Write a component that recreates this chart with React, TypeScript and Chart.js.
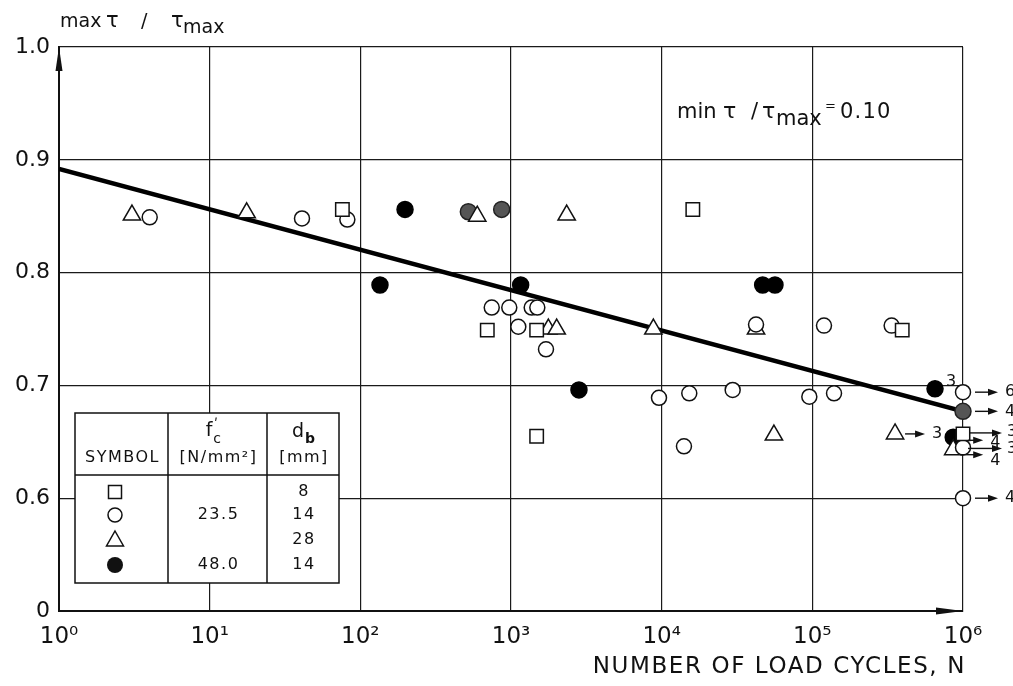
import React, { useEffect, useRef } from 'react';
import { Chart, registerables } from 'chart.js';

Chart.register(...registerables);

const FONT = 'DejaVu Sans';
const INK = '#111';

// ---- data ----
const xTickExponents = [0, 1, 2, 3, 4, 5, 6];
const xTickLabels = ['10⁰', '10¹', '10²', '10³', '10⁴', '10⁵', '10⁶'];
const yTickValues = [0.5, 0.6, 0.7, 0.8, 0.9, 1.0];
const yTickLabels = ['0', '0.6', '0.7', '0.8', '0.9', '1.0'];
const xTitle = 'NUMBER OF LOAD CYCLES, N';

const squareN = [76, 696, 1480, 1480, 16100, 395000, 1000000];
const squareY = [0.856, 0.749, 0.749, 0.655, 0.856, 0.749, 0.657];

const circleN = [4.0, 41, 82, 745, 974, 1372, 1495, 1118, 1707, 9600, 15250, 29600, 95500, 139300, 14060, 42300, 119500, 336000, 1000000, 1000000, 1000000];
const circleY = [0.849, 0.848, 0.847, 0.769, 0.769, 0.769, 0.769, 0.752, 0.732, 0.689, 0.693, 0.696, 0.690, 0.693, 0.646, 0.754, 0.753, 0.753, 0.694, 0.645, 0.600];

const triangleN = [3.05, 17.6, 597, 2342, 1770, 2010, 8810, 42300, 55600, 354000, 861000];
const triangleY = [0.851, 0.853, 0.850, 0.851, 0.750, 0.750, 0.750, 0.750, 0.656, 0.657, 0.643];

const filledN = [198, 135, 1159, 2825, 46800, 56500, 652000, 861000];
const filledY = [0.856, 0.789, 0.789, 0.696, 0.789, 0.789, 0.697, 0.654];

const stippledN = [521, 867, 1000000];
const stippledY = [0.854, 0.856, 0.677];

const fitN = [1, 1000000];
const fitY = [0.892, 0.677];

// run-outs (specimens that did not fail) and their counts
const runoutN = [1000000, 1000000, 1000000, 861000, 1000000, 861000, 1000000, 354000];
const runoutY = [0.694, 0.677, 0.657, 0.654, 0.645, 0.643, 0.600, 0.657];
const runoutCount = ['6', '4', '3', '4', '3', '4', '4', '3'];
const countOnlyN = [652000];
const countOnlyY = [0.697];
const countOnlyLabel = ['3'];

// legend table
const legendSymbols = ['rect', 'circle', 'triangle', 'filled'];
const legendFc = ['', '23.5', '', '48.0'];
const legendDb = ['8', '14', '28', '14'];

// arrow styling (start offset, end offset, label offset, vertical shift, label shift)
const runoutStyle = [
  [12, 35, 42, 0, 0],
  [12, 35, 42, 0, 0],
  [7, 39, 44, -1, -1],
  [15, 30, 37, 3, 3],
  [5, 39, 44, 1, 0],
  [7, 30, 37, 5, 6],
  [12, 35, 42, 0, 0],
  [10, 30, 37, 0, 0],
];

const pts = (xs: number[], ys: number[]) => xs.map((x, i) => ({ x, y: ys[i] }));

function drawArrow(ctx: CanvasRenderingContext2D, x0: number, x1: number, y: number) {
  ctx.beginPath();
  ctx.moveTo(x0, y);
  ctx.lineTo(x1 - 6, y);
  ctx.stroke();
  ctx.beginPath();
  ctx.moveTo(x1, y);
  ctx.lineTo(x1 - 10, y - 3.5);
  ctx.lineTo(x1 - 10, y + 3.5);
  ctx.closePath();
  ctx.fill();
}

const decorPlugin = {
  id: 'decor',
  beforeDatasetsDraw(chart: any) {
    const ctx: any = chart.ctx;
    // legend table
    const L = 75, R = 339, T = 413, B = 583, H = 475, C1 = 168, C2 = 267;
    ctx.save();
    ctx.fillStyle = '#fff';
    ctx.fillRect(L, T, R - L, B - T);
    ctx.strokeStyle = INK;
    ctx.lineWidth = 1.5;
    ctx.strokeRect(L, T, R - L, B - T);
    ctx.beginPath();
    ctx.moveTo(L, H); ctx.lineTo(R, H);
    ctx.moveTo(C1, T); ctx.lineTo(C1, B);
    ctx.moveTo(C2, T); ctx.lineTo(C2, B);
    ctx.stroke();
    ctx.fillStyle = INK;
    ctx.textAlign = 'center';
    ctx.textBaseline = 'middle';
    ctx.letterSpacing = '1.5px';
    ctx.font = `16px ${FONT}`;
    ctx.fillText('SYMBOL', (L + C1) / 2 + 1, 458);
    ctx.fillText('[N/mm²]', (C1 + C2) / 2 + 1, 458);
    ctx.fillText('[mm]', (C2 + R) / 2 + 1, 458);
    ctx.letterSpacing = '0px';
    // f'c
    ctx.font = `19px ${FONT}`;
    ctx.fillText('f', 209, 431);
    ctx.font = `14px ${FONT}`;
    ctx.fillText('ʹ', 216, 425);
    ctx.fillText('c', 217, 439);
    // d_b
    ctx.font = `19px ${FONT}`;
    ctx.fillText('d', 298, 432);
    ctx.font = `bold 14px ${FONT}`;
    ctx.fillText('b', 310, 439);
    const rowsY = [492, 515, 540, 565];
    ctx.font = `16px ${FONT}`;
    ctx.letterSpacing = '1.5px';
    legendSymbols.forEach((s, i) => {
      const y = rowsY[i];
      const x = 115;
      ctx.lineWidth = 1.5;
      ctx.strokeStyle = INK;
      ctx.beginPath();
      if (s === 'rect') {
        ctx.rect(x - 6.5, y - 6.5, 13, 13);
        ctx.stroke();
      } else if (s === 'circle') {
        ctx.arc(x, y, 7, 0, Math.PI * 2);
        ctx.stroke();
      } else if (s === 'triangle') {
        ctx.moveTo(x, y - 9);
        ctx.lineTo(x + 8.5, y + 6);
        ctx.lineTo(x - 8.5, y + 6);
        ctx.closePath();
        ctx.stroke();
      } else {
        ctx.arc(x, y, 8, 0, Math.PI * 2);
        ctx.fill();
      }
      if (legendFc[i]) ctx.fillText(legendFc[i], (C1 + C2) / 2 + 1, y);
      ctx.fillText(legendDb[i], (C2 + R) / 2 + 1, y);
    });
    ctx.restore();
  },
  afterDraw(chart: any) {
    const ctx: any = chart.ctx;
    const xs = chart.scales.x;
    const ys = chart.scales.y;
    const area = chart.chartArea;
    ctx.save();
    ctx.fillStyle = INK;
    ctx.strokeStyle = INK;
    ctx.lineWidth = 1.4;
    // axis arrows
    ctx.beginPath();
    ctx.moveTo(area.left, area.top);
    ctx.lineTo(area.left - 3.5, area.top + 24);
    ctx.lineTo(area.left + 3.5, area.top + 24);
    ctx.closePath();
    ctx.fill();
    ctx.beginPath();
    ctx.moveTo(area.right, area.bottom);
    ctx.lineTo(area.right - 27, area.bottom - 3.5);
    ctx.lineTo(area.right - 27, area.bottom + 3.5);
    ctx.closePath();
    ctx.fill();

    // run-out arrows
    ctx.font = `16px ${FONT}`;
    ctx.textAlign = 'left';
    ctx.textBaseline = 'middle';
    runoutN.forEach((n, i) => {
      const px = xs.getPixelForValue(n);
      const py = ys.getPixelForValue(runoutY[i]);
      const [a, b, c, d, e] = runoutStyle[i];
      drawArrow(ctx, px + a, px + b, py + d);
      ctx.fillText(runoutCount[i], px + c, py + d + e);
    });
    countOnlyN.forEach((n, i) => {
      const px = xs.getPixelForValue(n);
      const py = ys.getPixelForValue(countOnlyY[i]);
      ctx.fillText(countOnlyLabel[i], px + 11, py - 7);
    });

    // x axis title
    ctx.textBaseline = 'middle';
    ctx.textAlign = 'right';
    ctx.font = `23px ${FONT}`;
    ctx.letterSpacing = '1.6px';
    ctx.fillText(xTitle, area.right + 3, 667);
    ctx.letterSpacing = '0px';

    // y axis title
    ctx.textAlign = 'left';
    ctx.textBaseline = 'alphabetic';
    ctx.font = `19px ${FONT}`;
    ctx.fillText('max', 60, 27);
    ctx.font = `21px ${FONT}`;
    ctx.fillText('τ', 106, 27);
    ctx.font = `19px ${FONT}`;
    ctx.fillText('/', 141, 27);
    ctx.font = `21px ${FONT}`;
    ctx.fillText('τ', 171, 27);
    ctx.font = `19px ${FONT}`;
    ctx.fillText('max', 183, 33);

    // annotation
    ctx.font = `21px ${FONT}`;
    ctx.fillText('min', 677, 118);
    ctx.font = `22px ${FONT}`;
    ctx.fillText('τ', 723, 118);
    ctx.font = `21px ${FONT}`;
    ctx.fillText('/', 751, 118);
    ctx.font = `22px ${FONT}`;
    ctx.fillText('τ', 762, 118);
    ctx.font = `21px ${FONT}`;
    ctx.fillText('max', 776, 125);
    ctx.font = `13px ${FONT}`;
    ctx.fillText('=', 825, 110);
    ctx.font = `21px ${FONT}`;
    ctx.letterSpacing = '1.2px';
    ctx.fillText('0.10', 840, 118);
    ctx.restore();
  },
};

const markerBase = {
  type: 'scatter' as const,
  borderColor: INK,
  backgroundColor: '#fff',
  borderWidth: 1.5,
  showLine: false,
  clip: false,
  order: 1,
};

export default function App() {
  const ref = useRef<HTMLCanvasElement>(null);
  useEffect(() => {
    if (!ref.current) return;
    const chart = new Chart(ref.current, {
      type: 'scatter',
      data: {
        datasets: [
          {
            type: 'scatter',
            label: 'fit',
            data: pts(fitN, fitY),
            showLine: true,
            borderColor: '#000',
            borderWidth: 4.5,
            pointRadius: 0,
            order: 10,
          } as any,
          { ...markerBase, label: 'db 8', data: pts(squareN, squareY), pointStyle: 'rect', pointRadius: 9.5 },
          { ...markerBase, label: 'db 14', data: pts(circleN, circleY), pointStyle: 'circle', pointRadius: 7.5 },
          { ...markerBase, label: 'db 28', data: pts(triangleN, triangleY), pointStyle: 'triangle', pointRadius: 10 },
          { ...markerBase, label: "f'c 48", data: pts(filledN, filledY), pointStyle: 'circle', pointRadius: 8, backgroundColor: '#000', borderColor: '#000' },
          { ...markerBase, label: 'stippled', data: pts(stippledN, stippledY), pointStyle: 'circle', pointRadius: 8, backgroundColor: '#555', borderColor: '#222' },
        ],
      },
      options: {
        animation: false,
        responsive: false,
        devicePixelRatio: 1,
        layout: { padding: { top: 47, right: 50, left: 0, bottom: 0 } },
        plugins: { legend: { display: false }, tooltip: { enabled: false } },
        scales: {
          x: {
            type: 'logarithmic',
            min: 1,
            max: 1000000,
            afterBuildTicks: (s: any) => {
              s.ticks = xTickExponents.map((e) => ({ value: Math.pow(10, e) }));
            },
            afterFit: (s: any) => {
              s.height = 75;
            },
            ticks: {
              autoSkip: false,
              maxRotation: 0,
              padding: 12,
              color: INK,
              font: { family: FONT, size: 23 },
              callback: (_v: any, i: number) => xTickLabels[i],
            },
            grid: { color: '#1a1a1a', lineWidth: 1.2, drawTicks: false },
            border: { color: INK, width: 2 },
          },
          y: {
            type: 'linear',
            min: 0.5,
            max: 1.0,
            afterBuildTicks: (s: any) => {
              s.ticks = yTickValues.map((v) => ({ value: v }));
            },
            afterFit: (s: any) => {
              s.width = 59;
            },
            ticks: {
              padding: 9,
              color: INK,
              font: { family: FONT, size: 22 },
              callback: (_v: any, i: number) => yTickLabels[i],
            },
            grid: { color: '#1a1a1a', lineWidth: 1.2, drawTicks: false },
            border: { color: INK, width: 2 },
          },
        },
      } as any,
      plugins: [decorPlugin],
    });
    return () => chart.destroy();
  }, []);
  return (
    <div style={{ position: 'absolute', left: 0, top: 0, width: 1013, height: 686, background: '#fff' }}>
      <canvas ref={ref} width={1013} height={686} style={{ display: 'block' }} />
    </div>
  );
}
